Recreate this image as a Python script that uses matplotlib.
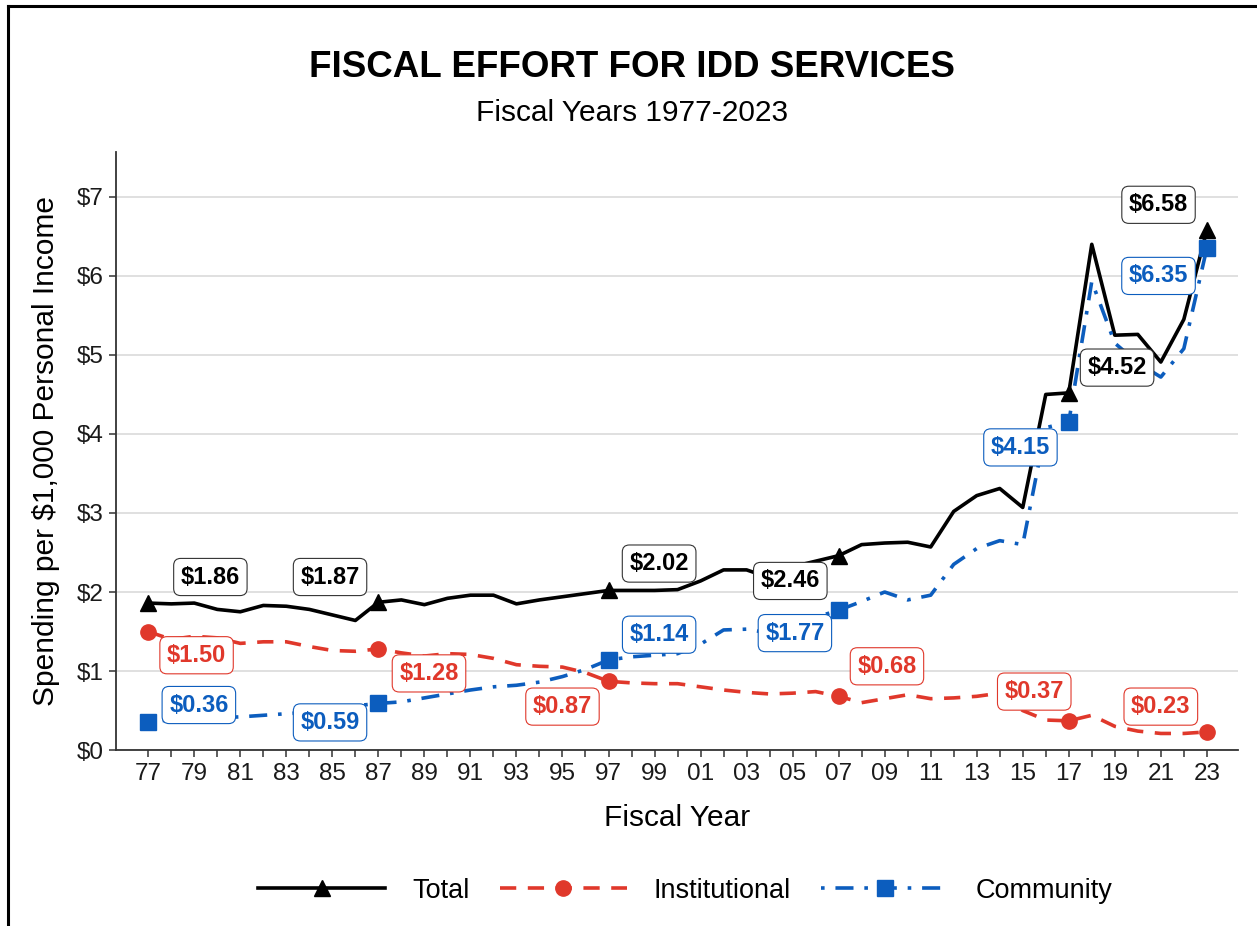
import matplotlib
matplotlib.use("Agg")
import matplotlib.pyplot as plt
from matplotlib.lines import Line2D

plt.rcParams['font.family'] = ['Liberation Sans', 'DejaVu Sans']
plt.rcParams['text.parse_math'] = False

years = list(range(1977, 2024))
total = [1.86, 1.85, 1.86, 1.78, 1.75, 1.83, 1.82, 1.78, 1.71, 1.64,
         1.87, 1.90, 1.84, 1.92, 1.96, 1.96, 1.85, 1.90, 1.94, 1.98,
         2.02, 2.02, 2.02, 2.03, 2.14, 2.28, 2.28, 2.18, 2.32, 2.39,
         2.46, 2.60, 2.62, 2.63, 2.57, 3.02, 3.22, 3.31, 3.07, 4.50,
         4.52, 6.40, 5.25, 5.26, 4.91, 5.45, 6.58]
institutional = [1.50, 1.40, 1.44, 1.42, 1.35, 1.37, 1.37, 1.31, 1.26, 1.25,
                 1.28, 1.23, 1.19, 1.22, 1.21, 1.16, 1.08, 1.06, 1.05, 0.98,
                 0.87, 0.85, 0.84, 0.84, 0.80, 0.76, 0.73, 0.71, 0.72, 0.74,
                 0.68, 0.60, 0.65, 0.70, 0.65, 0.66, 0.68, 0.72, 0.50, 0.38,
                 0.37, 0.44, 0.30, 0.24, 0.21, 0.21, 0.23]
community = [0.36, 0.38, 0.40, 0.41, 0.42, 0.44, 0.46, 0.48, 0.52, 0.56,
             0.59, 0.61, 0.66, 0.71, 0.76, 0.80, 0.82, 0.86, 0.93, 1.02,
             1.14, 1.18, 1.20, 1.22, 1.34, 1.52, 1.53, 1.48, 1.58, 1.68,
             1.77, 1.88, 2.00, 1.90, 1.96, 2.35, 2.55, 2.65, 2.60, 4.08,
             4.15, 5.93, 5.15, 4.90, 4.72, 5.08, 6.35]
marker_years = [1977, 1987, 1997, 2007, 2017, 2023]
series_names = ["Total", "Institutional", "Community"]

# label placement (layout only): offsets in (years, dollars) from each marked point
label_offsets = {
    "Total": [(2.7, 0.33), (-2.1, 0.32), (2.2, 0.34), (-2.1, -0.32), (2.1, 0.32), (-2.1, 0.32)],
    "Institutional": [(2.1, -0.30), (2.2, -0.31), (-2.0, -0.32), (2.1, 0.38), (-1.5, 0.37), (-2.0, 0.32)],
    "Community": [(2.2, 0.21), (-2.1, -0.24), (2.2, 0.32), (-1.9, -0.29), (-2.1, -0.32), (-2.1, -0.35)],
}

BLACK = "#000000"
RED = "#E0382B"
BLUE = "#0C5DBE"
styles = {
    "Total": dict(color=BLACK, ls="-", marker="^", edge="#333333"),
    "Institutional": dict(color=RED, ls=(0, (4.5, 3.2)), marker="o", edge=RED),
    "Community": dict(color=BLUE, ls=(0, (1, 3, 5, 3)), marker="s", edge=BLUE),
}
data = {"Total": total, "Institutional": institutional, "Community": community}

fig = plt.figure(figsize=(12.57, 9.26), dpi=100)
ax = fig.add_axes([0.0923, 0.190, 0.8927, 0.646])

for name in series_names:
    st = styles[name]
    vals = data[name]
    ax.plot(years, vals, color=st["color"], ls=st["ls"], lw=2.6, zorder=3)
    mx = [y for y in marker_years]
    my = [vals[years.index(y)] for y in marker_years]
    ax.plot(mx, my, ls="none", marker=st["marker"], color=st["color"], ms=11, zorder=4)
    for (x, v), (dx, dy) in zip(zip(mx, my), label_offsets[name]):
        ax.text(x + dx, v + dy, f"${v:.2f}", ha="center", va="center",
                fontsize=17, fontweight="bold", color=st["color"], zorder=6,
                bbox=dict(boxstyle="round,pad=0.3,rounding_size=0.3",
                          fc="white", ec=st["edge"], lw=0.8))

ax.set_xlim(1975.6, 2024.36)
ax.set_ylim(0, 7.57)
ax.set_xticks(years)
ax.set_xticklabels([f"{y % 100:02d}" if (y - 1977) % 2 == 0 else "" for y in years])
ax.set_yticks(range(0, 8))
ax.set_yticklabels([f"${v}" for v in range(0, 8)])
ax.tick_params(axis="both", labelsize=17.5, length=5, width=1.1, color="#333333",
               labelcolor="#1a1a1a", pad=4)
ax.grid(axis="y", color="#dddddd", lw=1.3, zorder=0)
ax.set_axisbelow(True)
for s in ["top", "right"]:
    ax.spines[s].set_visible(False)
for s in ["left", "bottom"]:
    ax.spines[s].set_color("#333333")
    ax.spines[s].set_linewidth(1.3)

ax.set_xlabel("Fiscal Year", fontsize=21.5, labelpad=14)
ax.set_ylabel("Spending per $1,000 Personal Income", fontsize=21.5, labelpad=12)

fig.text(0.503, 0.927, "FISCAL EFFORT FOR IDD SERVICES", ha="center", va="center",
         fontsize=26.5, fontweight="bold")
fig.text(0.503, 0.878, "Fiscal Years 1977-2023", ha="center", va="center", fontsize=21.5)

handles = [Line2D([0], [0], color=styles[n]["color"], ls=styles[n]["ls"], lw=2.6,
                  marker=styles[n]["marker"], ms=11) for n in series_names]
fig.legend(handles, series_names, loc="center", bbox_to_anchor=(0.545, 0.038), ncol=3,
           frameon=False, fontsize=19.5, handlelength=4.7, columnspacing=1.1, handletextpad=1.0)

# figure frame (top and left edges)
fig.add_artist(Line2D([0.0064, 0.0064], [0, 0.9935], transform=fig.transFigure, color="black", lw=2.2))
fig.add_artist(Line2D([0.0064, 1.0], [0.9935, 0.9935], transform=fig.transFigure, color="black", lw=2.2))

fig.savefig("out.png", dpi=100, facecolor="white")
